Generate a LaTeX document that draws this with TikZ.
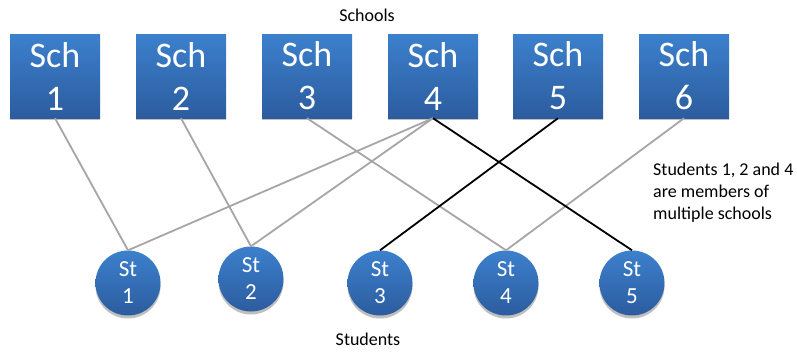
\documentclass[tikz,border=0pt]{standalone}
\usepackage{fontspec}
\setmainfont{Carlito}
\usetikzlibrary{shadows}
\definecolor{boxtop}{RGB}{60,128,205}
\definecolor{boxbot}{RGB}{44,92,158}
\definecolor{linkgray}{RGB}{166,166,166}
\tikzset{
  schbox/.style={rectangle, minimum width=90pt, minimum height=84pt, inner sep=0pt,
    top color=boxtop, bottom color=boxbot, draw=none, text=white, align=center,
    font=\fontsize{36}{43}\selectfont,
    drop shadow={shadow xshift=0pt, shadow yshift=-2pt, fill=black, opacity=0.25}},
  stcirc/.style={circle, minimum size=65pt, inner sep=0pt,
    top color=boxtop, bottom color=boxbot, draw=none, text=white, align=center,
    font=\fontsize{23}{27}\selectfont,
    drop shadow={shadow xshift=0pt, shadow yshift=-3pt, fill=black, opacity=0.25}},
  graylink/.style={draw=linkgray, line width=1.8pt},
  blacklink/.style={draw=black, line width=1.8pt},
  lbl/.style={font=\fontsize{18}{22}\selectfont, text=black}
}
\begin{document}
\begin{tikzpicture}[x=1pt,y=-1pt]
\useasboundingbox[fill=white] (0,0) rectangle (797,351);
% schools
\node[schbox] (sch1) at (55,76) {Sch\\1};
\node[schbox] (sch2) at (181,76) {Sch\\2};
\node[schbox] (sch3) at (307,76) {Sch\\3};
\node[schbox] (sch4) at (433,76) {Sch\\4};
\node[schbox] (sch5) at (558,76) {Sch\\5};
\node[schbox] (sch6) at (684,76) {Sch\\6};
% students
\node[stcirc] (st1) at (128,283) {St\\1};
\node[stcirc] (st2) at (251,279) {St\\2};
\node[stcirc] (st3) at (380,283) {St\\3};
\node[stcirc] (st4) at (506,283) {St\\4};
\node[stcirc] (st5) at (632,283) {St\\5};
% links
\draw[graylink] (sch1.south) -- (st1.north);
\draw[graylink] (sch2.south) -- (st2.north);
\draw[graylink] (sch3.south) -- (st4.north);
\draw[graylink] (sch4.south) -- (st1.north);
\draw[graylink] (sch4.south) -- (st2.north);
\draw[graylink] (sch6.south) -- (st4.north);
\draw[blacklink] (sch4.south) -- (st5.north);
\draw[blacklink] (sch5.south) -- (st3.north);
% labels
\node[lbl] (schools) at (367,15) {Schools};
\node[lbl] (students) at (368,339) {Students};
\node[lbl, align=left, anchor=north west, inner sep=0pt] (note) at (653,163) {Students 1, 2 and 4\\are members of\\multiple schools};
\end{tikzpicture}
\end{document}
